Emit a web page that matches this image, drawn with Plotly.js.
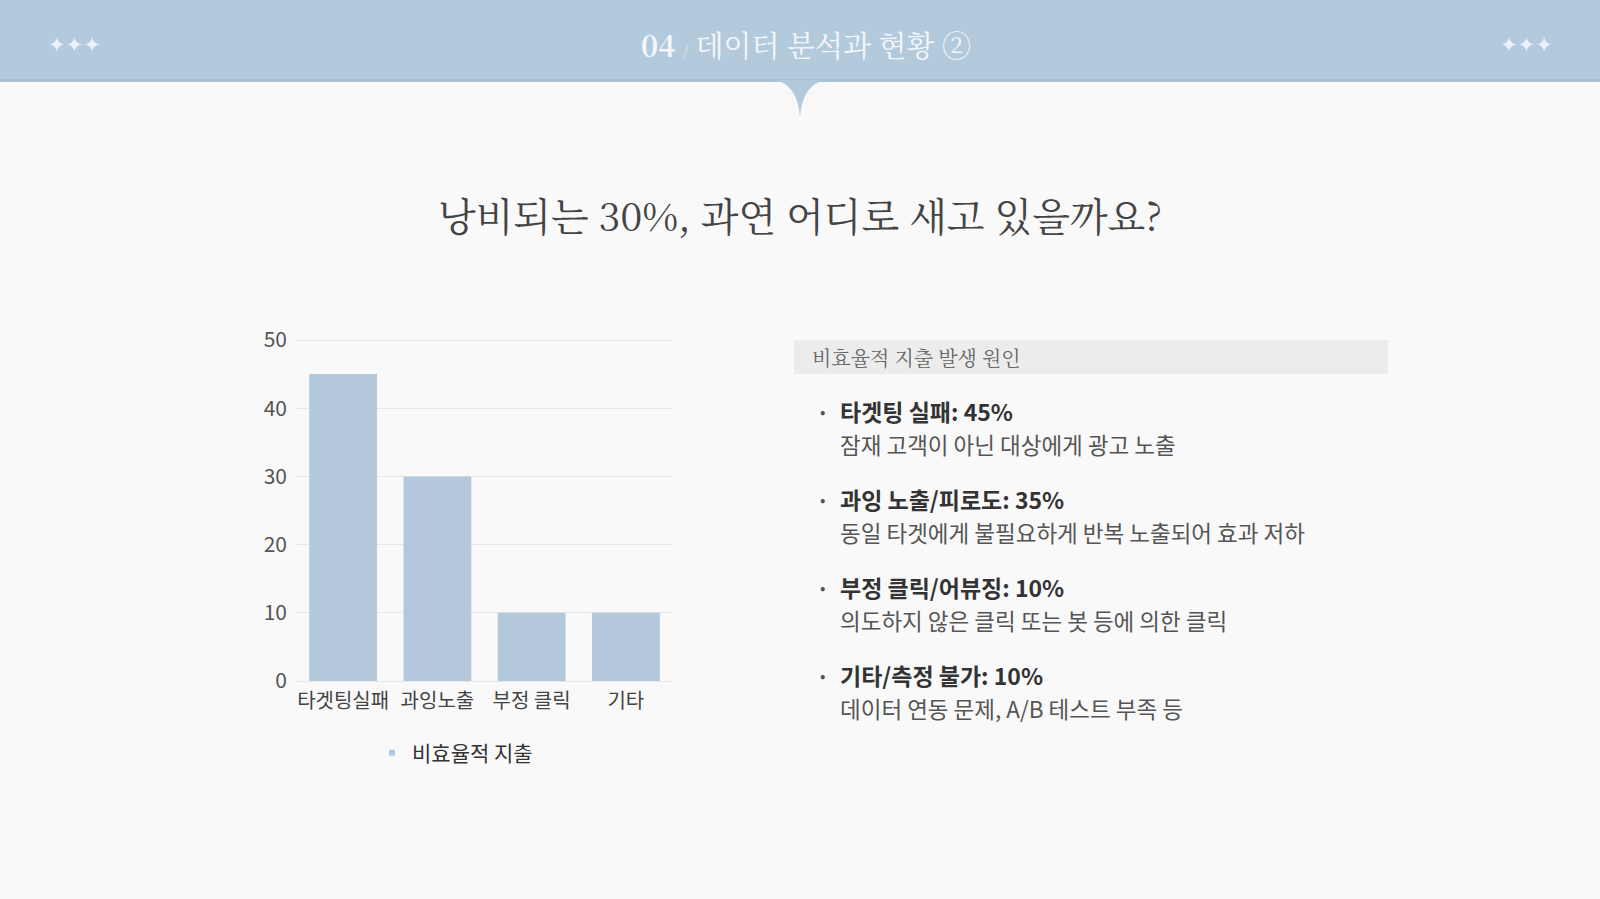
<!DOCTYPE html>
<html>
<head>
<meta charset="utf-8">
<script src="https://cdn.plot.ly/plotly-3.0.1.min.js"></script>
<style>
  html, body { margin: 0; padding: 0; background: #f9f9f9; }
  #chart { width: 1600px; height: 899px; }
</style>
</head>
<body>
<div id="chart"></div>
<script>
// chart data
var categories = ["타겟팅실패", "과잉노출", "부정 클릭", "기타"];
var values = [45, 30, 10, 10];
var seriesName = "비효율적 지출";
var yTicks = [0, 10, 20, 30, 40, 50];

// page text
var headerNo = "04";
var headerText = "데이터 분석과 현황 ②";
var pageTitle = "낭비되는 30%, 과연 어디로 새고 있을까요?";
var boxTitle = "비효율적 지출 발생 원인";
var causeTitles = ["타겟팅 실패: 45%", "과잉 노출/피로도: 35%", "부정 클릭/어뷰징: 10%", "기타/측정 불가: 10%"];
var causeNotes = [
  "잠재 고객이 아닌 대상에게 광고 노출",
  "동일 타겟에게 불필요하게 반복 노출되어 효과 저하",
  "의도하지 않은 클릭 또는 봇 등에 의한 클릭",
  "데이터 연동 문제, A/B 테스트 부족 등"
];

var W = 1600, H = 899;
function px(x) { return x / W; }
function py(y) { return 1 - y / H; }

var barColor = "#b3c9db";
var sans = "Noto Sans CJK KR, Noto Sans, sans-serif";
var serif = "Noto Serif CJK KR, Liberation Serif, Noto Sans CJK KR, serif";

var bars = {
  type: "bar",
  x: categories,
  y: values,
  marker: { color: barColor },
  name: seriesName,
  showlegend: false,
  hoverinfo: "x+y"
};

// small square legend entry, like the original
var legendEntry = {
  type: "scatter",
  mode: "markers",
  x: [categories[0]],
  y: [null],
  name: seriesName,
  marker: { symbol: "square", size: 6, color: barColor },
  showlegend: true
};

var shapes = [
  // header band
  { type: "rect", xref: "paper", yref: "paper", x0: 0, x1: 1, y0: py(82), y1: 1,
    fillcolor: "#b3cadc", line: { width: 0 }, layer: "below" },
  { type: "rect", xref: "paper", yref: "paper", x0: 0, x1: 1, y0: py(82), y1: py(79),
    fillcolor: "#a9c0d3", line: { width: 0 }, layer: "below" },
  // drop pointer under the header
  { type: "path", xref: "paper", yref: "paper", layer: "below",
    path: "M " + px(774) + "," + py(80) +
          " Q " + px(797) + "," + py(84) + " " + px(800) + "," + py(116) +
          " Q " + px(803) + "," + py(84) + " " + px(826) + "," + py(80) + " Z",
    fillcolor: "#b3cadc", line: { width: 0 } },
  // box behind the panel title
  { type: "rect", xref: "paper", yref: "paper", x0: px(794), x1: px(1388), y0: py(374), y1: py(340),
    fillcolor: "#ececec", line: { width: 0 }, layer: "below" }
];

var annotations = [
  { text: "✦✦✦", x: px(74), y: py(45), font: { family: "DejaVu Sans", size: 21, color: "#eaf2fb" } },
  { text: "✦✦✦", x: px(1526), y: py(45), font: { family: "DejaVu Sans", size: 21, color: "#eaf2fb" } },
  { text: "<b>" + headerNo + "</b> <span style='font-size:15px;color:#dbe6f0'>/</span> " + headerText,
    x: px(806), y: py(45), font: { family: serif, size: 29, color: "#f3f7fb" } },
  { text: pageTitle, x: px(800), y: py(214), font: { family: serif, size: 39, color: "#444444" } },
  { text: boxTitle, x: px(810), y: py(357), xanchor: "left", font: { family: serif, size: 20, color: "#666666" } }
];

for (var i = 0; i < causeTitles.length; i++) {
  var rowY = 411 + i * 88;
  annotations.push({ text: "•", x: px(822), y: py(rowY), font: { family: sans, size: 16, color: "#555555" } });
  annotations.push({ text: "<b>" + causeTitles[i] + "</b>", x: px(838), y: py(rowY), xanchor: "left",
    font: { family: sans, size: 23, color: "#333333" } });
  annotations.push({ text: causeNotes[i], x: px(838), y: py(rowY + 33), xanchor: "left",
    font: { family: sans, size: 22.5, color: "#555555" } });
}

annotations.forEach(function (a) {
  a.xref = "paper";
  a.yref = "paper";
  a.showarrow = false;
  if (!a.xanchor) a.xanchor = "center";
  a.yanchor = "middle";
});

var layout = {
  width: W,
  height: H,
  margin: { l: 0, r: 0, t: 0, b: 0 },
  paper_bgcolor: "#f9f9f9",
  plot_bgcolor: "rgba(0,0,0,0)",
  bargap: 0.28,
  showlegend: true,
  legend: {
    orientation: "h",
    x: px(372), xanchor: "left",
    y: py(753), yanchor: "middle",
    font: { family: sans, size: 21, color: "#333333" },
    bgcolor: "rgba(0,0,0,0)"
  },
  xaxis: {
    domain: [px(296), px(673)],
    type: "category",
    showgrid: false,
    showline: false,
    ticks: "",
    ticklabelstandoff: 6,
    tickfont: { family: sans, size: 20, color: "#444444" },
    fixedrange: true
  },
  yaxis: {
    domain: [py(681), py(339)],
    range: [0, 50.15],
    tickvals: yTicks,
    showgrid: true,
    gridcolor: "#e6e6e6",
    gridwidth: 1,
    zeroline: true,
    zerolinecolor: "#e6e6e6",
    zerolinewidth: 1,
    showline: false,
    ticks: "",
    ticklabelstandoff: 8,
    tickfont: { family: sans, size: 21, color: "#555555" },
    fixedrange: true
  },
  shapes: shapes,
  annotations: annotations
};

Plotly.newPlot("chart", [bars, legendEntry], layout, { displayModeBar: false, staticPlot: true });
</script>
</body>
</html>
